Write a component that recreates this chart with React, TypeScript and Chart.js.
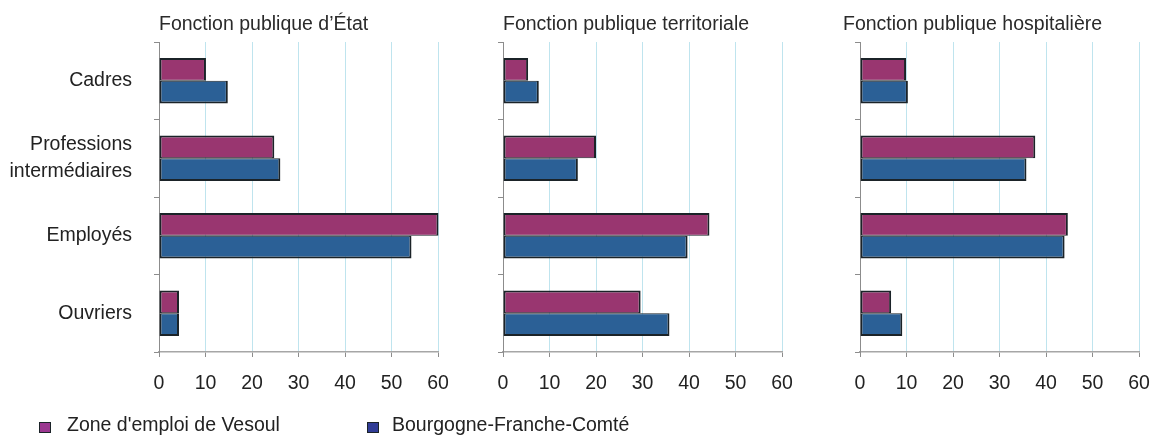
import React, { useEffect, useRef } from "react";
import { Chart, registerables } from "chart.js";

Chart.register(...registerables);

// ---- data ----
const categories: string[][] = [["Cadres"], ["Professions", "intermédiaires"], ["Employés"], ["Ouvriers"]];
const panelTitles = ["Fonction publique d’État", "Fonction publique territoriale", "Fonction publique hospitalière"];
const seriesNames = ["Zone d'emploi de Vesoul", "Bourgogne-Franche-Comté"];
const xTickValues = [0, 10, 20, 30, 40, 50, 60];

const vesoulEtat = [10.1, 24.8, 60.1, 4.3];
const bfcEtat = [14.8, 26.1, 54.3, 4.3];
const vesoulTerritoriale = [5.4, 20.0, 44.4, 29.6];
const bfcTerritoriale = [7.7, 16.1, 39.7, 35.8];
const vesoulHospitaliere = [9.9, 37.7, 44.7, 6.7];
const bfcHospitaliere = [10.3, 35.8, 44.0, 9.1];

// ---- styles ----
const FONT = "'Liberation Sans', Arial, Helvetica, sans-serif";
const FONT_SIZE = 19.5;
const TEXT = "#222222";
const MAGENTA = "#993670";
const BLUE = "#2b6096";
const BAR_BORDER = "#1b2328";
const GRID = "#bfe4ee";
const AXIS = "#8c8c8c";

type PanelProps = {
  vesoul: number[];
  bfc: number[];
  showLabels: boolean;
  left: number;
  width: number;
  yWidth: number;
  padRight: number;
};

function Panel({ vesoul, bfc, showLabels, left, width, yWidth, padRight }: PanelProps) {
  const ref = useRef<HTMLCanvasElement | null>(null);
  useEffect(() => {
    if (!ref.current) return;
    const font = { family: FONT, size: FONT_SIZE, lineHeight: 1.42 };
    const chart = new Chart(ref.current, {
      type: "bar",
      data: {
        labels: categories,
        datasets: [
          {
            label: seriesNames[0],
            data: vesoul,
            backgroundColor: MAGENTA,
            borderColor: BAR_BORDER,
            borderWidth: { top: 2, bottom: 1, left: 2, right: 2 },
            borderSkipped: false,
            categoryPercentage: 0.59,
            barPercentage: 1,
            inflateAmount: 0,
            clip: false,
          },
          {
            label: seriesNames[1],
            data: bfc,
            backgroundColor: BLUE,
            borderColor: BAR_BORDER,
            borderWidth: { top: 1, bottom: 2, left: 2, right: 2 },
            borderSkipped: false,
            categoryPercentage: 0.59,
            barPercentage: 1,
            inflateAmount: 0,
            clip: false,
          },
        ],
      },
      options: {
        indexAxis: "y",
        responsive: false,
        maintainAspectRatio: false,
        animation: false,
        layout: { padding: { top: 42, right: padRight, bottom: 0, left: 0 } },
        plugins: { legend: { display: false }, tooltip: { enabled: false }, title: { display: false } },
        scales: {
          x: {
            type: "linear",
            min: xTickValues[0],
            max: xTickValues[xTickValues.length - 1],
            afterBuildTicks: (scale: any) => {
              scale.ticks = xTickValues.map((v) => ({ value: v }));
            },
            ticks: { color: TEXT, font, padding: 13, maxRotation: 0 },
            grid: {
              color: (ctx: any) => (ctx.tick && ctx.tick.value === 0 ? "rgba(0,0,0,0)" : GRID),
              tickColor: AXIS,
              tickLength: 5,
              lineWidth: 1,
            },
            border: { color: "#a6a6a6", width: 1.5 },
            afterFit: (scale: any) => {
              scale.height = 85;
              scale.paddingLeft = 0;
              scale.paddingRight = 0;
            },
          },
          y: {
            type: "category",
            ticks: { display: showLabels, color: TEXT, font, padding: 22 },
            grid: { drawOnChartArea: false, color: AXIS, tickLength: 5, offset: true },
            border: { color: AXIS, width: 1 },
            afterFit: (scale: any) => {
              scale.width = yWidth;
              scale.paddingTop = 0;
              scale.paddingBottom = 0;
            },
          },
        },
      },
    } as any);
    return () => chart.destroy();
  }, []);
  return (
    <canvas
      ref={ref}
      width={width}
      height={437}
      style={{ position: "absolute", left, top: 0, width, height: 437 }}
    />
  );
}

const titleStyle = (left: number): React.CSSProperties => ({
  position: "absolute",
  left,
  top: 13,
  fontFamily: FONT,
  fontSize: FONT_SIZE,
  lineHeight: "20px",
  color: "#2a2a2a",
  whiteSpace: "nowrap",
});

const legendSquare = (left: number, color: string): React.CSSProperties => ({
  position: "absolute",
  left,
  top: 422,
  width: 10,
  height: 9,
  background: color,
  border: `1.5px solid ${BAR_BORDER}`,
});

const legendText = (left: number): React.CSSProperties => ({
  position: "absolute",
  left,
  top: 414,
  fontFamily: FONT,
  fontSize: FONT_SIZE,
  lineHeight: "20px",
  color: TEXT,
  whiteSpace: "nowrap",
});

export default function App() {
  return (
    <div style={{ position: "absolute", left: 0, top: 0, width: 1150, height: 437, background: "#ffffff", overflow: "hidden" }}>
      <Panel vesoul={vesoulEtat} bfc={bfcEtat} showLabels={true} left={0} width={470} yWidth={159} padRight={32} />
      <Panel vesoul={vesoulTerritoriale} bfc={bfcTerritoriale} showLabels={false} left={470} width={340} yWidth={33} padRight={28} />
      <Panel vesoul={vesoulHospitaliere} bfc={bfcHospitaliere} showLabels={false} left={810} width={340} yWidth={50} padRight={11} />
      <div style={titleStyle(159)}>{panelTitles[0]}</div>
      <div style={titleStyle(503)}>{panelTitles[1]}</div>
      <div style={titleStyle(843)}>{panelTitles[2]}</div>
      <div style={legendSquare(39, "#9b3790")} />
      <div style={legendText(67)}>{seriesNames[0]}</div>
      <div style={legendSquare(367, "#303c96")} />
      <div style={legendText(392)}>{seriesNames[1]}</div>
    </div>
  );
}
